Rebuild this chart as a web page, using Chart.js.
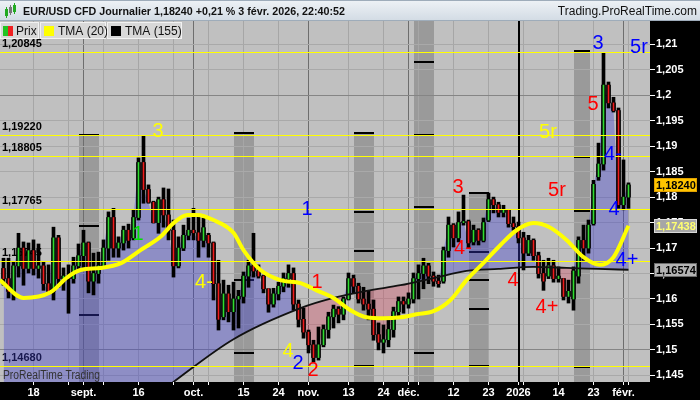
<!DOCTYPE html>
<html>
<head>
<meta charset="utf-8">
<script src="https://cdn.jsdelivr.net/npm/chart.js@4.4.1/dist/chart.umd.min.js"></script>
<style>
html,body{margin:0;padding:0;background:#000;}
canvas{display:block;}
</style>
</head>
<body>
<canvas id="c" width="700" height="400"></canvas>
<script>
// EUR/USD CFD daily, 8 aug 2025 -> 3 feb 2026 (one entry per trading day, index 0..125)
const opens = [
1.1660,1.1640,1.1615,1.1665,1.1700,1.1660,1.1695,1.1660,1.1665,1.1630,
1.1615,1.1720,1.1640,1.1645,1.1640,1.1665,1.1685,1.1710,1.1635,1.1650,
1.1665,1.1700,1.1760,1.1700,1.1710,1.1735,1.1720,1.1760,1.1868,1.1815,
1.1790,1.1750,1.1795,1.1765,1.1735,1.1665,1.1700,1.1725,1.1735,1.1730,
1.1715,1.1725,1.1710,1.1630,1.1565,1.1610,1.1575,1.1600,1.1605,1.1645,
1.1665,1.1655,1.1645,1.1620,1.1590,1.1610,1.1625,1.1640,1.1650,1.1590,
1.1560,1.1535,1.1510,1.1485,1.1510,1.1540,1.1565,1.1580,1.1570,1.1600,
1.1640,1.1625,1.1600,1.1590,1.1580,1.1530,1.1515,1.1520,1.1540,1.1575,
1.1595,1.1590,1.1600,1.1640,1.1650,1.1665,1.1645,1.1635,1.1635,1.1695,
1.1745,1.1720,1.1750,1.1752,1.1712,1.1735,1.1715,1.1755,1.1795,1.1785,
1.1770,1.1775,1.1748,1.1742,1.1720,1.1690,1.1715,1.1685,1.1650,1.1645,
1.1665,1.1640,1.1640,1.1605,1.1600,1.1645,1.1715,1.1700,1.1748,1.1840,
1.1865,1.2020,1.1985,1.1970,1.1785,1.1800];
const highs = [
1.1680,1.1680,1.1672,1.1729,1.1712,1.1710,1.1716,1.1708,1.1672,1.1667,
1.1741,1.1725,1.1661,1.1667,1.1682,1.1708,1.1735,1.1712,1.1690,1.1692,
1.1716,1.1771,1.1778,1.1722,1.1743,1.1747,1.1775,1.1877,1.1920,1.1824,
1.1792,1.1800,1.1818,1.1816,1.1755,1.1722,1.1745,1.1759,1.1778,1.1761,
1.1759,1.1729,1.1712,1.1676,1.1637,1.1627,1.1633,1.1617,1.1653,1.1676,
1.1729,1.1667,1.1647,1.1620,1.1621,1.1633,1.1651,1.1667,1.1661,1.1598,
1.1582,1.1539,1.1519,1.1545,1.1549,1.1574,1.1588,1.1585,1.1604,1.1651,
1.1647,1.1631,1.1623,1.1617,1.1598,1.1553,1.1549,1.1564,1.1584,1.1604,
1.1604,1.1612,1.1651,1.1667,1.1680,1.1670,1.1653,1.1647,1.1702,1.1761,
1.1748,1.1771,1.1804,1.1755,1.1745,1.1738,1.1759,1.1808,1.1800,1.1790,
1.1784,1.1775,1.1761,1.1751,1.1731,1.1725,1.1718,1.1692,1.1676,1.1680,
1.1676,1.1663,1.1640,1.1637,1.1663,1.1722,1.1745,1.1755,1.1833,1.1906,
1.2083,1.2026,1.1996,1.1975,1.1873,1.1828];
const lows = [
1.1627,1.1602,1.1598,1.1643,1.1627,1.1651,1.1647,1.1641,1.1617,1.1614,
1.1598,1.1623,1.1617,1.1572,1.1631,1.1657,1.1657,1.1612,1.1608,1.1631,
1.1660,1.1676,1.1682,1.1682,1.1696,1.1700,1.1716,1.1755,1.1788,1.1788,
1.1749,1.1729,1.1741,1.1716,1.1643,1.1661,1.1695,1.1716,1.1716,1.1682,
1.1702,1.1682,1.1598,1.1539,1.1559,1.1555,1.1539,1.1543,1.1592,1.1623,
1.1643,1.1641,1.1612,1.1574,1.1584,1.1598,1.1614,1.1623,1.1578,1.1545,
1.1523,1.1494,1.1476,1.1480,1.1506,1.1523,1.1543,1.1553,1.1559,1.1598,
1.1612,1.1592,1.1578,1.1559,1.1519,1.1500,1.1494,1.1506,1.1525,1.1564,
1.1572,1.1582,1.1592,1.1600,1.1620,1.1630,1.1625,1.1623,1.1631,1.1682,
1.1702,1.1712,1.1745,1.1700,1.1706,1.1706,1.1712,1.1752,1.1769,1.1761,
1.1761,1.1741,1.1735,1.1710,1.1657,1.1685,1.1676,1.1641,1.1617,1.1640,
1.1633,1.1633,1.1598,1.1592,1.1578,1.1631,1.1676,1.1690,1.1745,1.1833,
1.1853,1.1975,1.1967,1.1778,1.1775,1.1778];
const closes = [
1.1640,1.1615,1.1665,1.1700,1.1660,1.1695,1.1660,1.1665,1.1630,1.1615,
1.1720,1.1640,1.1645,1.1640,1.1665,1.1685,1.1710,1.1635,1.1650,1.1665,
1.1700,1.1760,1.1700,1.1710,1.1735,1.1715,1.1760,1.1868,1.1815,1.1790,
1.1750,1.1795,1.1765,1.1735,1.1665,1.1700,1.1725,1.1735,1.1730,1.1715,
1.1740,1.1710,1.1630,1.1560,1.1610,1.1575,1.1600,1.1605,1.1645,1.1665,
1.1655,1.1645,1.1620,1.1590,1.1610,1.1625,1.1640,1.1650,1.1590,1.1560,
1.1535,1.1510,1.1485,1.1510,1.1540,1.1565,1.1580,1.1570,1.1600,1.1640,
1.1625,1.1600,1.1590,1.1580,1.1530,1.1515,1.1520,1.1540,1.1575,1.1595,
1.1590,1.1600,1.1640,1.1650,1.1665,1.1645,1.1635,1.1630,1.1695,1.1745,
1.1720,1.1750,1.1752,1.1710,1.1735,1.1715,1.1750,1.1795,1.1785,1.1770,
1.1775,1.1748,1.1742,1.1720,1.1690,1.1715,1.1685,1.1650,1.1635,1.1665,
1.1640,1.1645,1.1605,1.1615,1.1655,1.1715,1.1700,1.1745,1.1825,1.1865,
1.2020,1.1985,1.1970,1.1785,1.1800,1.18240];

// TMA (20): day index / price
const tma20Idx = [-0.7,4,9.4,12.8,15.4,19.4,23.4,27.4,31.4,34,36.8,38.8,42,46,48,51.4,55.4,59.4,62.6,66,69.4,72.6,76,79.4,82.6,86,89.4,92.6,96,99.4,102.6,106,109.2,112.6,116,119.2,122,125];
const tma20Val = [1.1637,1.1602,1.1613,1.1643,1.1657,1.1661,1.1670,1.1696,1.1722,1.1749,1.1765,1.1765,1.1755,1.1730,1.1696,1.1657,1.1637,1.1631,1.1617,1.1602,1.1578,1.1564,1.1562,1.1564,1.1570,1.1576,1.1598,1.1637,1.1671,1.1706,1.1735,1.1749,1.1741,1.1716,1.1682,1.1667,1.1682,1.17438];
// TMA (155) (left part below the visible range)
const tma155Idx = [0,12,24,34,46,59.4,66,72.6,79.4,86,92.6,99,106,112.6,119,125];
const tma155Val = [1.1164,1.1266,1.1362,1.1437,1.1521,1.1582,1.1602,1.1616,1.1627,1.1641,1.1655,1.1659,1.1663,1.1661,1.1659,1.16574];

// price axis ticks and date axis ticks
const priceTicks = [1.145,1.15,1.155,1.16,1.165,1.17,1.175,1.18,1.185,1.19,1.195,1.2,1.205,1.21];
const dateTickIdx = [6,13,16,20,27,34,38,41,48,55,61,69,76,81,83,90,97,103,104,111,118,124,125];
const dateTickText = ['18','','sept.','','16','','oct.','','15','24','nov.','13','24','déc.','','12','23','2026','','14','23','févr.',''];
const monthTickIdx = [16,38,61,81,124];
const yearTickIdx = 103;

// horizontal levels
const levels = [1.20845,1.19220,1.18805,1.17765,1.16745,1.14680];

// shaded zones: from/to day index, top price (null = top of chart), black marks
const zoneFrom = [15,46,70,82,93,114];
const zoneTo = [19.2,50,74,86,97,117.2];
const zoneTop = [1.1922,1.1926,1.1926,null,1.1808,1.2086];
const zoneMarks = [
  [1.1922,1.1743,1.1659,1.1568],
  [1.1926,1.1637,1.1494],
  [1.1926,1.1771,1.1695,1.1468],
  [1.2065,1.1921,1.1780,1.1494],
  [1.1808,1.1692,1.1637,1.1580,1.1468],
  [1.2086,1.1879,1.1773,1.1466]
];

// wave labels
const waveText = ['3','1','1','4-','1','4','2','2','3','4-','4','5r','5r','4+','5','3','5r','4-','4','4+'];
const waveColor = ['#ffff00','#00e000','#0000ff','#ffff00','#ff0000','#ffff00','#0000ff','#ff0000','#ff0000','#ff0000','#ff0000','#ffff00','#ff0000','#ff0000','#ff0000','#0000ff','#0000ff','#0000ff','#0000ff','#0000ff'];
const waveIdx = [30.9,26.9,60.7,40.1,62.7,56.9,58.9,61.9,90.9,91.9,101.9,108.9,110.7,108.7,117.9,118.9,127.1,121.9,122.1,124.7];
const wavePrice = [1.1928,1.1727,1.1775,1.1633,1.1633,1.1496,1.1473,1.1459,1.1818,1.1700,1.1637,1.1926,1.1814,1.1584,1.1981,1.2102,1.2093,1.1883,1.1775,1.1676];

const FONT = '"Liberation Sans", Arial, sans-serif';
const fmt = (v, d) => v.toFixed(d).replace('.', ',');

const idx = closes.map((c, i) => i);
const wickData = idx.map(i => ({x: i, y: [lows[i], highs[i]]}));
const bodyData = idx.map(i => ({x: i, y: [Math.min(opens[i], closes[i]), Math.max(opens[i], closes[i])]}));
const bodyColors = idx.map(i => closes[i] >= opens[i] ? '#30dc30' : '#f01c1c');

const backdrop = {
  id: 'backdrop',
  beforeDraw(chart) {
    const {ctx, chartArea: a, scales: {x, y}} = chart;
    ctx.save();
    ctx.fillStyle = '#000';
    ctx.fillRect(0, 0, chart.width, chart.height);
    ctx.fillStyle = '#c0c0c0';
    ctx.fillRect(a.left, a.top, a.right - a.left, a.bottom - a.top);
    ctx.fillStyle = '#9a9a9a';
    zoneFrom.forEach((f, k) => {
      const x0 = Math.round(x.getPixelForValue(f));
      const x1 = Math.round(x.getPixelForValue(zoneTo[k]));
      const top = zoneTop[k] == null ? a.top : Math.round(y.getPixelForValue(zoneTop[k]));
      ctx.fillRect(x0, top, x1 - x0, a.bottom - top);
    });
    ctx.restore();
  },
  beforeDatasetsDraw(chart) {
    const {ctx, chartArea: a, scales: {x, y}} = chart;
    ctx.save();
    ctx.fillStyle = '#000';
    zoneFrom.forEach((f, k) => {
      const x0 = Math.round(x.getPixelForValue(f));
      const x1 = Math.round(x.getPixelForValue(zoneTo[k]));
      zoneMarks[k].forEach(p => {
        const py = Math.round(y.getPixelForValue(p));
        ctx.fillRect(x0, py - 1, x1 - x0, 2);
      });
    });
    // 2026 separator
    const xs = Math.round(x.getPixelForValue(yearTickIdx));
    ctx.fillRect(xs - 1, a.top, 2, a.bottom - a.top);
    // level labels
    ctx.font = 'bold 11px ' + FONT;
    ctx.textBaseline = 'alphabetic';
    ctx.textAlign = 'left';
    levels.forEach(v => {
      const py = Math.round(y.getPixelForValue(v));
      ctx.fillText(fmt(v, 5), 2, py - 5);
    });
    ctx.restore();
  },
  afterDatasetsDraw(chart) {
    const {ctx, chartArea: a, scales: {x, y}} = chart;
    ctx.save();
    ctx.fillStyle = '#ffff00';
    levels.forEach(v => {
      const py = Math.round(y.getPixelForValue(v));
      ctx.fillRect(a.left, py, a.right - a.left, 1);
    });
    ctx.font = '20px ' + FONT;
    ctx.textAlign = 'center';
    ctx.textBaseline = 'middle';
    waveText.forEach((t, k) => {
      ctx.fillStyle = waveColor[k];
      ctx.fillText(t, x.getPixelForValue(waveIdx[k]), y.getPixelForValue(wavePrice[k]));
    });
    ctx.fillStyle = '#333';
    ctx.font = '12px ' + FONT;
    ctx.textAlign = 'left';
    ctx.textBaseline = 'alphabetic';
    ctx.fillText('ProRealTime Trading', 3, a.bottom - 3, 97);
    ctx.restore();
  },
  afterDraw(chart) {
    const {ctx, scales: {y}} = chart;
    ctx.save();
    // title bar
    const g = ctx.createLinearGradient(0, 0, 0, 21);
    g.addColorStop(0, '#eef2f6');
    g.addColorStop(1, '#d2dbe4');
    ctx.fillStyle = g;
    ctx.fillRect(0, 0, chart.width, 21);
    ctx.fillStyle = '#9eacba';
    ctx.fillRect(0, 20, chart.width, 1);
    ctx.fillRect(0, 0, chart.width, 1);
    // small candle icon
    ctx.fillStyle = '#22aa22';
    ctx.fillRect(5, 9, 3, 7); ctx.fillRect(6, 7, 1, 11);
    ctx.fillRect(13, 5, 3, 7); ctx.fillRect(14, 3, 1, 11);
    ctx.fillStyle = '#777';
    ctx.fillRect(9, 7, 3, 6); ctx.fillRect(10, 5, 1, 10);
    ctx.fillStyle = '#111';
    ctx.font = 'bold 11.5px ' + FONT;
    ctx.textBaseline = 'alphabetic';
    ctx.fillText('EUR/USD CFD Journalier ' + fmt(closes[closes.length - 1], 5) + ' +0,21 % 3 févr. 2026, 22:40:52', 23, 15, 322);
    ctx.font = '12px ' + FONT;
    ctx.textAlign = 'right';
    ctx.fillText('Trading.ProRealTime.com', 697, 15, 142);
    // legend boxes
    ctx.textAlign = 'left';
    const boxes = [[0, 39, 'Prix'], [40, 66, 'TMA (20)'], [107, 75, 'TMA (155)']];
    boxes.forEach(([bx, bw, t], k) => {
      ctx.fillStyle = '#d8d8d8';
      ctx.fillRect(bx, 22, bw, 17);
      ctx.strokeStyle = '#f2f2f2';
      ctx.strokeRect(bx + 0.5, 22.5, bw - 1, 16);
      if (k === 0) {
        ctx.fillStyle = '#22c422'; ctx.fillRect(bx + 3, 26, 5, 10);
        ctx.fillStyle = '#f02020'; ctx.fillRect(bx + 8, 26, 5, 10);
      } else {
        ctx.fillStyle = k === 1 ? '#ffff00' : '#000';
        ctx.fillRect(bx + 4, 26, 10, 10);
      }
      ctx.fillStyle = '#111';
      ctx.font = '12px ' + FONT;
      ctx.fillText(t, bx + (k === 0 ? 16 : 18), 35);
    });
    // price tags on the axis
    const tags = [
      [tma155Val[tma155Val.length - 1], '#b4b4b4', '#000', '#6a6a6a'],
      [tma20Val[tma20Val.length - 1], '#a6a6a6', '#ffff70', '#d8d8d8'],
      [closes[closes.length - 1], '#ffc400', '#000', '#e0a000']
    ];
    ctx.font = 'bold 11px ' + FONT;
    ctx.textBaseline = 'middle';
    tags.forEach(([v, bg, fg, bd]) => {
      const py = Math.round(y.getPixelForValue(v));
      ctx.fillStyle = bg;
      ctx.fillRect(654, py - 7, 43, 14);
      ctx.strokeStyle = bd;
      ctx.strokeRect(654.5, py - 6.5, 42, 13);
      ctx.fillStyle = fg;
      ctx.fillText(fmt(v, 5), 656, py + 0.5);
    });
    ctx.restore();
  }
};

new Chart(document.getElementById('c'), {
  type: 'bar',
  data: {
    datasets: [
      {
        type: 'line',
        data: idx.map(i => ({x: i, y: closes[i]})),
        borderWidth: 0,
        borderColor: 'rgba(0,0,0,0)',
        pointRadius: 0,
        fill: {target: 1, above: 'rgba(60,60,205,0.38)', below: 'rgba(215,50,75,0.30)'},
        order: 10
      },
      {
        type: 'line',
        data: tma155Idx.map((v, k) => ({x: v, y: tma155Val[k]})),
        borderColor: '#111',
        borderWidth: 1.8,
        pointRadius: 0,
        cubicInterpolationMode: 'monotone',
        fill: false,
        order: 5
      },
      {
        type: 'line',
        data: tma20Idx.map((v, k) => ({x: v, y: tma20Val[k]})),
        borderColor: '#ffff00',
        borderWidth: 4,
        pointRadius: 0,
        cubicInterpolationMode: 'monotone',
        fill: false,
        order: 4
      },
      {data: wickData, backgroundColor: '#000', barThickness: 3, grouped: false, order: 8},
      {data: bodyData, backgroundColor: '#000', barThickness: 4, grouped: false, order: 7},
      {data: bodyData, backgroundColor: bodyColors, barThickness: 1, grouped: false, order: 6}
    ]
  },
  options: {
    responsive: false,
    animation: false,
    devicePixelRatio: 1,
    layout: {padding: {top: 21, left: 0, right: 0, bottom: 0}},
    plugins: {legend: {display: false}, tooltip: {enabled: false}},
    scales: {
      x: {
        type: 'linear',
        min: -0.7,
        max: 129.3,
        offset: false,
        afterBuildTicks: s => { s.ticks = dateTickIdx.map(v => ({value: v})); },
        afterFit: s => { s.height = 18; },
        border: {display: false},
        grid: {
          offset: false,
          color: c => monthTickIdx.includes(c.tick && c.tick.value) ? '#6e6e6e' : (c.tick && c.tick.value === yearTickIdx ? '#000' : '#a6a6a6'),
          tickColor: '#fff',
          tickLength: 3
        },
        ticks: {
          autoSkip: false,
          maxRotation: 0,
          padding: 1,
          color: '#fff',
          font: {family: FONT, size: 11, weight: 'bold'},
          callback: (v, i) => dateTickText[i]
        }
      },
      y: {
        type: 'linear',
        position: 'right',
        min: 1.1437,
        max: 1.21458,
        afterBuildTicks: s => { s.ticks = priceTicks.map(v => ({value: v})); },
        afterFit: s => { s.width = 50; },
        border: {display: false},
        grid: {
          color: c => (c.tick && (Math.abs(c.tick.value - 1.2) < 1e-6 || Math.abs(c.tick.value - 1.15) < 1e-6)) ? '#858585' : '#a9a9a9',
          tickColor: '#fff',
          tickLength: 5
        },
        ticks: {
          padding: 1,
          color: '#fff',
          font: {family: FONT, size: 11, weight: 'bold'},
          callback: v => String(+v.toFixed(3)).replace('.', ',')
        }
      }
    }
  },
  plugins: [backdrop]
});
</script>
</body>
</html>
